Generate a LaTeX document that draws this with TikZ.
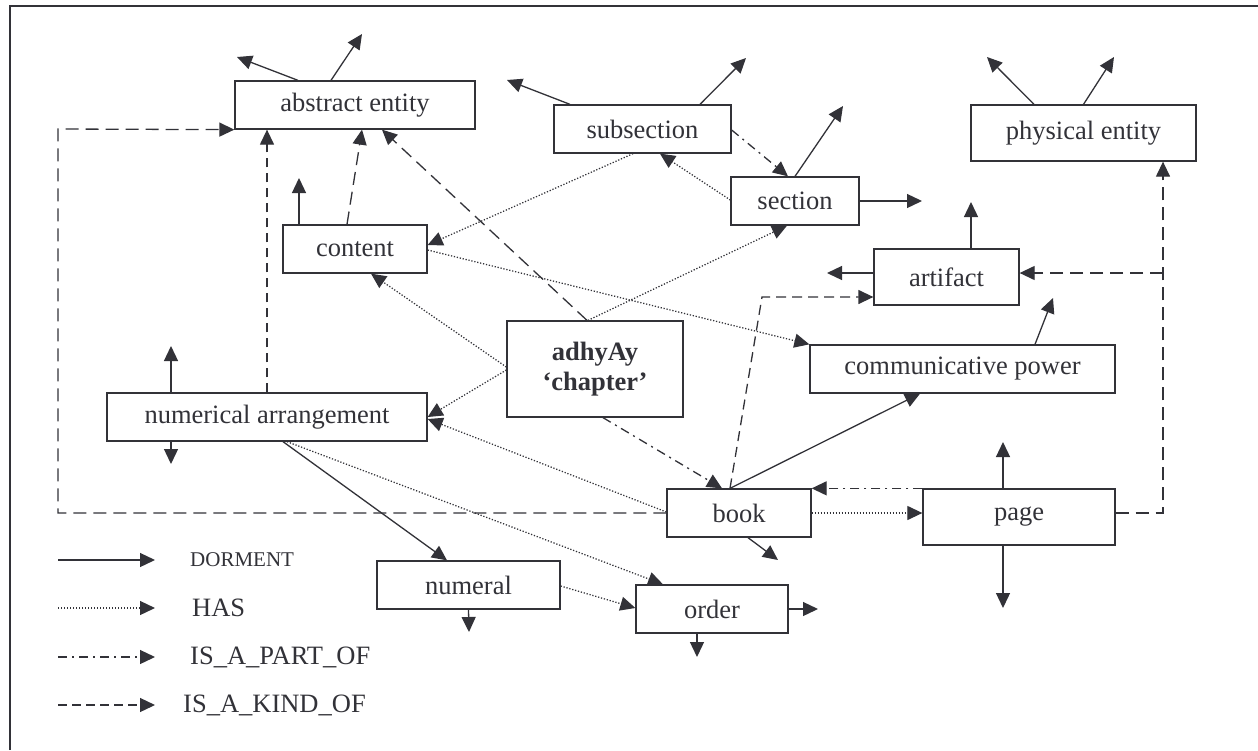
\documentclass[tikz,border=0pt]{standalone}
\usepackage{fontspec}
\setmainfont{Liberation Serif}
\usetikzlibrary{arrows.meta}
\definecolor{ink}{RGB}{50,50,56}
\begin{document}
\begin{tikzpicture}[x=1pt,y=-1pt,
  box/.style={draw=ink, line width=1.3pt, text=ink, inner sep=0pt,
    font=\fontsize{26.5}{30}\selectfont},
  dorm/.style={draw=ink, line width=1.3pt, -{Triangle[length=15pt,width=14pt]}},
  has/.style={dorm, line width=1.25pt, dash pattern=on 1.25pt off 1.75pt},
  part/.style={dorm, dash pattern=on 9pt off 5pt on 2pt off 5pt},
  kind/.style={dorm, dash pattern=on 13pt off 7pt},
  legtext/.style={text=ink, anchor=west, inner sep=0pt, font=\fontsize{26.5}{30}\selectfont}]
\useasboundingbox (0,0) rectangle (1258,750);
\fill[white] (0,0) rectangle (1258,750);
% frame
\coordinate (fA) at (10,750);
\coordinate (fB) at (10,6);
\coordinate (fC) at (1258,6);
\draw[ink, line width=1.3pt] (fA) -- (fB) -- (fC);

% nodes
\node[box, minimum width=240pt, minimum height=48pt] (abs) at (355,105) {abstract entity};
\node[box, minimum width=177pt, minimum height=48pt] (subsec) at (642.5,129) {subsection};
\node[box, minimum width=128pt, minimum height=48pt] (sec) at (795,201) {section};
\node[box, minimum width=225pt, minimum height=56pt] (phys) at (1083.5,133) {physical entity};
\node[box, minimum width=145pt, minimum height=56pt] (art) at (946.5,277) {artifact};
\node[box, minimum width=144pt, minimum height=48pt] (cont) at (355,249) {content};
\node[box, minimum width=176pt, minimum height=96pt, align=center, font=\fontsize{26.5}{30}\selectfont\bfseries] (chap) at (595,369) {adhyAy\\‘chapter’};
\node[box, minimum width=305pt, minimum height=48pt] (comm) at (962.5,369) {communicative power};
\node[box, minimum width=320pt, minimum height=48pt] (numarr) at (267,417) {numerical arrangement};
\node[box, minimum width=144pt, minimum height=48pt] (book) at (739,513) {book};
\node[box, minimum width=192pt, minimum height=56pt] (page) at (1019,517) {page};
\node[box, minimum width=183pt, minimum height=48pt] (numeral) at (468.5,585) {numeral};
\node[box, minimum width=152pt, minimum height=48pt] (order) at (712,609) {order};

% free ends of dangling DORMENT arrows
\coordinate (s1) at (237,57);
\coordinate (s2) at (362,34);
\coordinate (s3) at (507,80);
\coordinate (s4) at (746,58);
\coordinate (s5) at (843,106);
\coordinate (s6) at (922,201);
\coordinate (s7) at (987,57);
\coordinate (s8) at (1114,57);
\coordinate (s9) at (971,202);
\coordinate (s10) at (827,273);
\coordinate (s11) at (1053,298);
\coordinate (s12) at (299,178);
\coordinate (s13) at (171,346);
\coordinate (s14) at (171,464);
\coordinate (s15) at (778,560);
\coordinate (s16) at (1003,442);
\coordinate (s17) at (1003,608);
\coordinate (s18) at (469,632);
\coordinate (s19) at (697,657);
\coordinate (s20) at (818,609);

\draw[dorm] ([xshift=-57pt]abs.north) -- (s1);
\draw[dorm] ([xshift=-24pt]abs.north) -- (s2);
\draw[dorm] ([xshift=-72.5pt]subsec.north) -- (s3);
\draw[dorm] ([xshift=57.5pt]subsec.north) -- (s4);
\draw[dorm] (sec.north) -- (s5);
\draw[dorm] (sec.east) -- (s6);
\draw[dorm] ([xshift=-49.5pt]phys.north) -- (s7);
\draw[dorm] (phys.north) -- (s8);
\draw[dorm] ([xshift=24.5pt]art.north) -- (s9);
\draw[dorm] ([yshift=4pt]art.west) -- (s10);
\draw[dorm] ([xshift=72.5pt]comm.north) -- (s11);
\draw[dorm] ([xshift=-56pt]cont.north) -- (s12);
\draw[dorm] ([xshift=-96pt]numarr.north) -- (s13);
\draw[dorm] ([xshift=-96pt]numarr.south) -- (s14);
\draw[dorm] ([xshift=9pt]book.south) -- (s15);
\draw[dorm] ([xshift=-16pt]page.north) -- (s16);
\draw[dorm] ([xshift=-16pt]page.south) -- (s17);
\draw[dorm] (numeral.south) -- (s18);
\draw[dorm] ([xshift=-15pt]order.south) -- (s19);
\draw[dorm] (order.east) -- (s20);

% DORMENT connections
\draw[dorm] ([xshift=16pt]numarr.south) -- ([xshift=-21.5pt]numeral.north);
\draw[dorm] ([xshift=-9pt]book.north) -- ([xshift=-42.5pt]comm.south);

% HAS
\draw[has] ([yshift=2pt]chap.west) -- ([xshift=16pt]cont.south);
\draw[has] ([yshift=-1pt]chap.west) -- (numarr.east);
\draw[has] ([xshift=-7pt]chap.north) -- ([xshift=-8pt]sec.south);
\draw[has] ([xshift=-9.5pt]subsec.south) -- ([yshift=4pt]cont.east);
\draw[has] ([yshift=1pt]sec.west) -- ([xshift=17.5pt]subsec.south);
\draw[has] ([yshift=-1pt]cont.east) -- (comm.north west);
\draw[has] ([yshift=1pt]book.west) -- ([yshift=-2pt]numarr.east);
\draw[has] ([xshift=20pt]numarr.south) -- ([xshift=-49pt]order.north);
\draw[has] ([yshift=-1pt]numeral.east) -- ([yshift=1pt]order.west);
\draw[has] (book.east) -- ([yshift=4pt]page.west);

% IS_A_PART_OF
\draw[part] ([yshift=-1pt]subsec.east) -- ([xshift=-7pt]sec.north);
\draw[part] ([xshift=8pt]chap.south) -- ([xshift=-17pt]book.north);
\draw[part] (page.north west) -- (book.north east);

% IS_A_KIND_OF
\coordinate (kL) at (58,129);
\coordinate (kA) at (762,297);
\coordinate (kP) at (1163,273);
\draw[kind] ([xshift=-8pt]chap.north) -- ([xshift=27pt]abs.south);
\draw[kind] ([xshift=-8pt]cont.north) -- ([xshift=7pt]abs.south);
\draw[kind, dash pattern=on 9pt off 6pt] (numarr.north) -- ([xshift=-88pt]abs.south);
\draw[kind] (book.west) -| (kL) -- (abs.south west);
\draw[kind, dash pattern=on 10pt off 6pt] ([xshift=-9pt]book.north) -- (kA) -- ([yshift=-20pt]art.west);
\draw[kind] ([yshift=4pt]page.east) -| ([xshift=79.5pt]phys.south);
\draw[kind] (kP) -- ([yshift=4pt]art.east);

% legend
\coordinate (l1a) at (58,560); \coordinate (l1b) at (155,560);
\coordinate (l2a) at (58,608); \coordinate (l2b) at (155,608);
\coordinate (l3a) at (58,657); \coordinate (l3b) at (155,657);
\coordinate (l4a) at (58,705); \coordinate (l4b) at (155,705);
\draw[dorm] (l1a) -- (l1b);
\draw[has] (l2a) -- (l2b);
\draw[part] (l3a) -- (l3b);
\draw[kind, dash pattern=on 9pt off 5pt] (l4a) -- (l4b);
\node[legtext, font=\fontsize{21}{24}\selectfont] (t1) at (190,560) {DORMENT};
\node[legtext] (t2) at (192,608) {HAS};
\node[legtext] (t3) at (190,657) {IS\_A\_PART\_OF};
\node[legtext] (t4) at (183,705) {IS\_A\_KIND\_OF};
\end{tikzpicture}
\end{document}
